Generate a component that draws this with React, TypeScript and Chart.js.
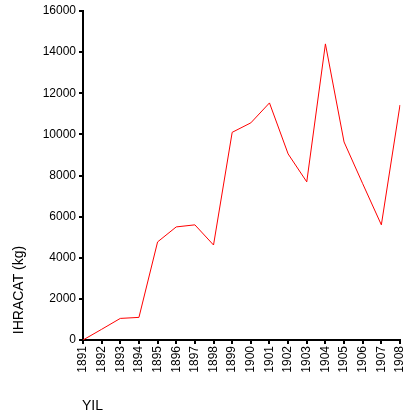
import React, { useEffect, useRef } from "react";
import { Chart, registerables } from "chart.js";
Chart.register(...registerables);

const years = ["1891","1892","1893","1894","1895","1896","1897","1898","1899","1900","1901","1902","1903","1904","1905","1906","1907","1908"];
const exports_kg = [0, 520, 1050, 1100, 4770, 5500, 5600, 4620, 10100, 10560, 11530, 9050, 7690, 14400, 9630, 7600, 5600, 11430];

const titles = {
  id: "titles",
  afterDraw(chart: any) {
    const ctx = chart.ctx;
    ctx.save();
    ctx.fillStyle = "#000";
    ctx.font = "14px 'Liberation Sans', Arial, sans-serif";
    ctx.textBaseline = "middle";
    ctx.fillText("YIL", 82, 406);
    ctx.translate(19, 290);
    ctx.rotate(-Math.PI / 2);
    ctx.textAlign = "center";
    ctx.fillText("IHRACAT (kg)", 0, 0);
    ctx.restore();
  },
};

export default function App() {
  const ref = useRef<HTMLCanvasElement>(null);
  useEffect(() => {
    const chart = new Chart(ref.current!, {
      type: "line",
      data: {
        labels: years,
        datasets: [{ data: exports_kg, borderColor: "#ff0000", borderWidth: 1, pointRadius: 0, tension: 0, fill: false }],
      },
      options: {
        animation: false,
        responsive: false,
        layout: { padding: { top: 11, right: 5, left: 0, bottom: 0 } },
        plugins: { legend: { display: false }, tooltip: { enabled: false } },
        scales: {
          x: {
            offset: false,
            grid: { drawOnChartArea: false, drawTicks: true, tickLength: 4, color: "#000", lineWidth: 2 },
            border: { color: "#000", width: 2 },
            ticks: { color: "#000", font: { family: "'Liberation Sans', Arial", size: 12 }, maxRotation: 90, minRotation: 90, autoSkip: false, padding: 2 },
            afterFit: (s: any) => { s.height = 78; s.paddingRight = 0; },
          },
          y: {
            min: 0,
            max: 16000,
            grid: { drawOnChartArea: false, drawTicks: true, tickLength: 4, color: "#000", lineWidth: 2 },
            border: { color: "#000", width: 2 },
            ticks: { stepSize: 2000, color: "#000", font: { family: "'Liberation Sans', Arial", size: 12 }, padding: 3, callback: (v: any) => String(v) },
            afterFit: (s: any) => { s.width = 83; },
          },
        },
      },
      plugins: [titles],
    });
    return () => chart.destroy();
  }, []);
  return (
    <div style={{ position: "fixed", left: 0, top: 0, background: "#fff" }}>
      <canvas ref={ref} width={405} height={418} />
    </div>
  );
}
